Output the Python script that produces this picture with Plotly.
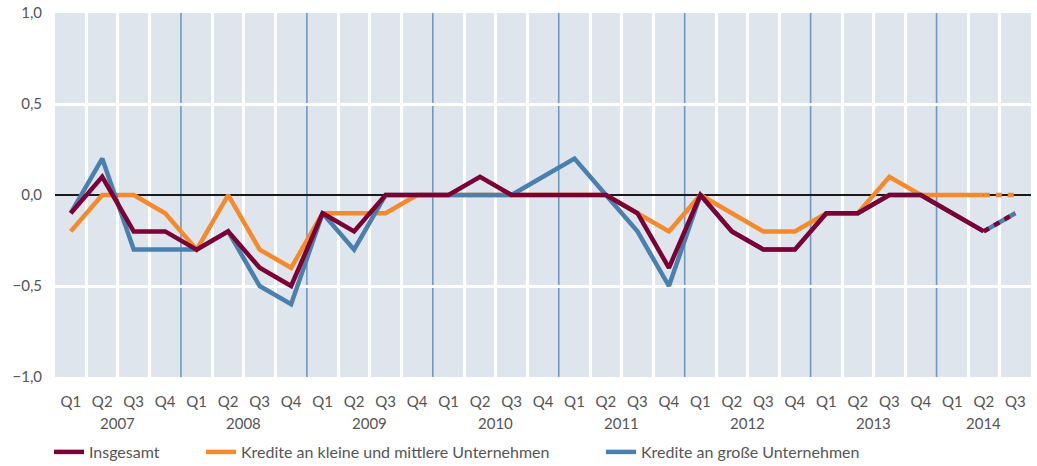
import plotly.graph_objects as go

quarters = ["Q1", "Q2", "Q3", "Q4"] * 7 + ["Q1", "Q2", "Q3"]
years = [y for y in range(2007, 2014) for _ in range(4)] + [2014] * 3

insgesamt = [-0.1, 0.1, -0.2, -0.2,
             -0.3, -0.2, -0.4, -0.5,
             -0.1, -0.2, 0.0, 0.0,
             0.0, 0.1, 0.0, 0.0,
             0.0, 0.0, -0.1, -0.4,
             0.0, -0.2, -0.3, -0.3,
             -0.1, -0.1, 0.0, 0.0,
             -0.1, -0.2, -0.1]
kmu = [-0.2, 0.0, 0.0, -0.1,
       -0.3, 0.0, -0.3, -0.4,
       -0.1, -0.1, -0.1, 0.0,
       0.0, 0.0, 0.0, 0.0,
       0.0, 0.0, -0.1, -0.2,
       0.0, -0.1, -0.2, -0.2,
       -0.1, -0.1, 0.1, 0.0,
       0.0, 0.0, 0.0]
gross = [-0.1, 0.2, -0.3, -0.3,
         -0.3, -0.2, -0.5, -0.6,
         -0.1, -0.3, 0.0, 0.0,
         0.0, 0.0, 0.0, 0.1,
         0.2, 0.0, -0.2, -0.5,
         0.0, -0.2, -0.3, -0.3,
         -0.1, -0.1, 0.0, 0.0,
         -0.1, -0.2, -0.1]
n_forecast = 1  # last segment shown dashed

names = ["Insgesamt", "Kredite an kleine und mittlere Unternehmen", "Kredite an große Unternehmen"]
colors = ["#7b0036", "#f5892b", "#4a80ad"]

x = list(range(len(quarters)))
split = len(x) - 1 - n_forecast

fig = go.Figure()
series = [(kmu, 1, "legend2", "6px,6px"), (gross, 2, "legend3", "solid"), (insgesamt, 0, "legend", "6px,6px")]
for vals, ci, lg, dash in series:
    fig.add_trace(go.Scatter(x=x[:split + 1], y=vals[:split + 1], mode="lines",
                             name=names[ci], line=dict(color=colors[ci], width=4.5),
                             legend=lg, hoverinfo="skip"))
    fig.add_trace(go.Scatter(x=x[split:], y=vals[split:], mode="lines",
                             line=dict(color=colors[ci], width=4.5, dash=dash),
                             showlegend=False, hoverinfo="skip"))

# year boundaries
uniq_years = sorted(set(years))
boundaries = [years.index(y) - 0.5 for y in uniq_years[1:]]
for b in boundaries:
    fig.add_shape(type="line", xref="x", yref="paper", x0=b, x1=b, y0=0, y1=1,
                  line=dict(color="#7099c0", width=1.6), layer="between")

minor_vals = [i + 0.5 for i in range(len(x) - 1) if (i + 0.5) not in boundaries]

for yv in uniq_years:
    idx = [i for i, yy in enumerate(years) if yy == yv]
    fig.add_annotation(x=sum(idx) / len(idx), y=0, xref="x", yref="paper",
                       yshift=-46, text=str(yv), showarrow=False,
                       font=dict(size=15, color="#555555"), yanchor="middle")

font = "Lato, 'Open Sans', sans-serif"
leg_common = dict(orientation="h", xref="container", yref="container", y=1 - 452 / 466,
                  xanchor="left", yanchor="middle", font=dict(size=16, color="#555555"),
                  bgcolor="rgba(0,0,0,0)")
fig.update_layout(
    width=1037, height=466,
    margin=dict(l=55, r=6, t=13, b=89, autoexpand=False),
    paper_bgcolor="white", plot_bgcolor="#dfe5ed",
    separators=",.",
    font=dict(family=font, size=14, color="#555555"),
    xaxis=dict(range=[-0.5, len(x) - 0.5], tickmode="array", tickvals=x, ticktext=quarters,
               showgrid=False, zeroline=False, ticks="", ticklabelstandoff=14, automargin=False,
               minor=dict(tickmode="array", tickvals=minor_vals, showgrid=True,
                          gridcolor="white", gridwidth=3, ticks=""),
               tickfont=dict(size=15, color="#555555")),
    yaxis=dict(range=[-1, 1], tickmode="array", tickvals=[-1, -0.5, 0, 0.5, 1],
               tickformat=".1f", showgrid=True, gridcolor="white", gridwidth=2.5,
               zeroline=True, zerolinecolor="#1a1a1a", zerolinewidth=2, automargin=False,
               ticks="", ticklabelstandoff=12, tickfont=dict(size=15, color="#555555")),
    legend=dict(x=49 / 1037, **leg_common),
    legend2=dict(x=201 / 1037, **leg_common),
    legend3=dict(x=601 / 1037, **leg_common),
)

fig.write_html("out.html", config={"displayModeBar": False},
               post_script="document.body.style.margin='0';document.body.style.overflow='hidden';")
